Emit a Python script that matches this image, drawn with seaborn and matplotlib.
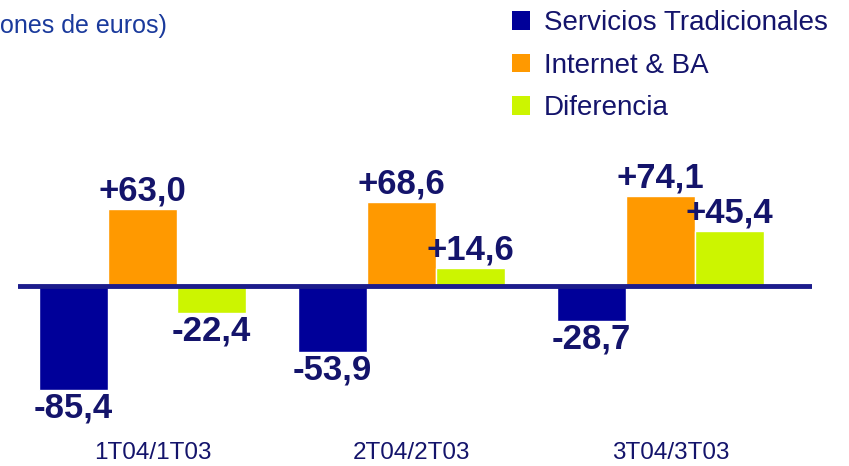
"""
Variación de ingresos por trimestre: servicios tradicionales vs Internet & BA.
Saves out.png (849x466).
"""

import matplotlib
matplotlib.use("Agg")
import matplotlib.pyplot as plt
from matplotlib.patches import Patch
import pandas as pd
import seaborn as sns

# Data (millones de euros)
periods = ["1T04/1T03", "2T04/2T03", "3T04/3T03"]
series = ["Servicios Tradicionales", "Internet & BA", "Diferencia"]
tradicionales = [-85.4, -53.9, -28.7]
internet_ba = [63.0, 68.6, 74.1]
diferencia = [-22.4, 14.6, 45.4]
subtitle = "ones de euros)"

COLORS = ["#000099", "#FF9900", "#CCF500"]
NAVY = "#14146B"
LINE = "#1C1C8C"

sns.set_theme(style="white")
plt.rcParams["font.family"] = ["Liberation Sans", "DejaVu Sans"]

df = pd.DataFrame({
    "periodo": periods * 3,
    "serie": [s for s in series for _ in periods],
    "valor": tradicionales + internet_ba + diferencia,
})

fig = plt.figure(figsize=(8.49, 4.66), dpi=100)
ax = fig.add_axes([18 / 849, 0, (812 - 18) / 849, 1])

sns.barplot(data=df, x="periodo", y="valor", hue="serie", order=periods,
            hue_order=series, palette=COLORS, width=0.8, gap=0,
            saturation=1, legend=False, ax=ax)

ax.set_xlim(-0.48, 2.585)
ax.set_ylim(-147.5, 234.4)
ax.axhline(0, color=LINE, lw=3.5, zorder=3)

# Value labels on each bar end
for container, vals in zip(ax.containers, [tradicionales, internet_ba, diferencia]):
    labels = [f"{v:+.1f}".replace(".", ",") for v in vals]
    ax.bar_label(container, labels=labels, padding=1, fontsize=25,
                 fontweight="bold", color=NAVY)

# Category labels underneath
for i, p in enumerate(periods):
    ax.text(i + 0.04, -137, p, ha="center", va="center", fontsize=17.5,
            color=NAVY)

ax.set_xticks([])
ax.set_yticks([])
ax.set_xlabel("")
ax.set_ylabel("")
sns.despine(ax=ax, left=True, bottom=True)

handles = [Patch(facecolor=c, edgecolor="none") for c in COLORS]
fig.legend(handles, series, loc="upper left",
           bbox_to_anchor=(501 / 849, 1 + 1 / 466),
           frameon=False, fontsize=20, labelcolor=NAVY, handlelength=0.65,
           handleheight=0.65, handletextpad=0.5, labelspacing=0.6,
           borderaxespad=0.0)

fig.text(0, 1 - 26 / 466, subtitle, ha="left", va="center", fontsize=18,
         color="#1A3A9C")

fig.savefig("out.png", dpi=100)
plt.close(fig)
